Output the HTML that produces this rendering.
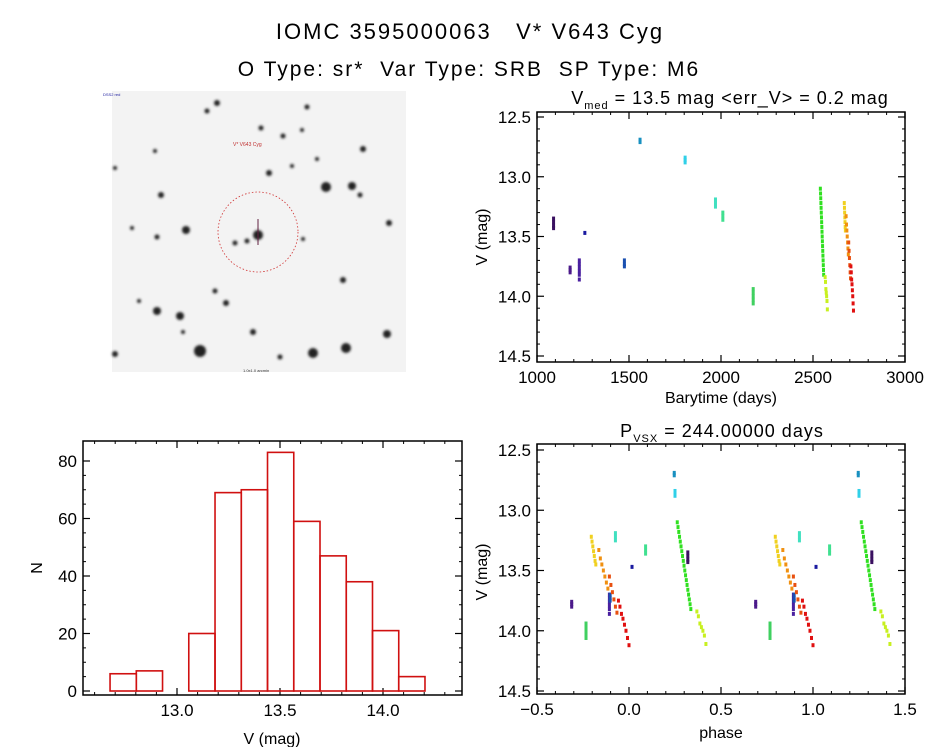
<!DOCTYPE html>
<html><head><meta charset="utf-8">
<style>
html,body{margin:0;padding:0;background:#fff;}
svg{display:block;font-family:"Liberation Sans","DejaVu Sans",sans-serif;}
</style></head>
<body>
<svg id="fig" width="944" height="747" viewBox="0 0 944 747">
<defs>
<filter id="blur1"><feGaussianBlur stdDeviation="1.2"/></filter>
</defs>
<text x="470" y="39" font-size="22" letter-spacing="2" text-anchor="middle">IOMC 3595000063 &#160;&#160;V* V643 Cyg</text>
<text x="469" y="76" font-size="21" letter-spacing="2" text-anchor="middle">O Type: sr* &#160;Var Type: SRB &#160;SP Type: M6</text>

<g id="sky">
<rect x="112" y="91" width="294" height="281" fill="#f3f3f3"/>
<g id="stars" filter="url(#blur1)"></g>
<circle cx="258" cy="232" r="40" fill="none" stroke="#d03030" stroke-width="0.8" stroke-dasharray="1.5,2"/>
<line x1="258" y1="219" x2="258" y2="245" stroke="#602040" stroke-width="1"/>
<text x="233" y="146" font-size="5" fill="#c03030">V* V643 Cyg</text>
<text x="103" y="96" font-size="4" fill="#2020a0">DSS2 red</text>
<text x="243" y="372" font-size="4" fill="#333">1.0x1.0 arcmin</text>
</g>

<g id="lc"></g>
<g id="ph"></g>
<g id="hist"></g>
</svg>
<script>
// ---- data ----
const lcTimes = [1090,1090,1090,1090, 1180,1180,1180, 1230,1230,1230,1230,1230,1230, 1260, 1475,1475,1475, 1560,1560, 1805,1805,1805, 1970,1970,1970, 2010,2010,2010, 2175,2175,2175,2175,2175,
 2540,2541,2542,2543,2544,2545,2546,2547,2548,2549,2550,2551,2552,2553,2554,2555,2556,2557,2558,
 2566,2568,2570,2572,2574,2576,2578,
 2670,2671,2672,2673,2674,2675,2676,
 2680,2682,2684,2686,2688,2690,2692,
 2694,2696,2698,2700,2702,2704,
 2706,2708,2710,2712,2714,2716,2718,2720];
const lcMags = [13.35,13.38,13.41,13.43, 13.76,13.78,13.80, 13.70,13.73,13.76,13.79,13.82,13.86, 13.47, 13.70,13.73,13.75, 12.69,12.71, 12.84,12.86,12.88, 13.19,13.22,13.25, 13.30,13.33,13.36, 13.94,13.97,14.00,14.03,14.06,
 13.10,13.14,13.18,13.22,13.26,13.30,13.34,13.38,13.42,13.46,13.50,13.54,13.58,13.62,13.66,13.70,13.74,13.78,13.82,
 13.84,13.88,13.94,13.97,14.00,14.04,14.11,
 13.22,13.26,13.30,13.34,13.38,13.42,13.45,
 13.33,13.40,13.45,13.50,13.55,13.60,13.65,
 13.55,13.62,13.68,13.74,13.80,13.85,
 13.75,13.80,13.86,13.90,13.95,14.00,14.06,14.12];
const lcColors = ['#3a1060','#3a1060','#3a1060','#3a1060','#4b1a8a','#4b1a8a','#4b1a8a','#4a20a0','#4a20a0','#4a20a0','#4a20a0','#4a20a0','#4a20a0','#1a1aa0','#1a50b0','#1a50b0','#1a50b0','#1890c0','#1890c0','#30d0e8','#30d0e8','#30d0e8','#40e0c0','#40e0c0','#40e0c0','#40e090','#40e090','#40e090','#40d060','#40d060','#40d060','#40d060','#40d060'];
const period = 244.0;
const epoch = 2720;
const histCounts = [6,7,0,20,69,70,83,59,47,38,21,5];
const histStart = 12.675;
const histWidth = 0.1274;
const lcXTicks = [1000,1500,2000,2500,3000];
const magTicks = [12.5,13.0,13.5,14.0,14.5];
const phXTicks = [-0.5,0.0,0.5,1.0,1.5];
const histXTicks = [13.0,13.5,14.0];
const histYTicks = [0,20,40,60,80];
const stars = [[217,103,3],[207,111,2.5],[307,107,2.5],[261,128,2.5],[283,136,2.5],[302,130,2],[363,149,3],[155,151,2],[269,173,3],[326,187,5],[352,186,4],[360,195,2.5],[161,195,3],[186,230,4],[157,237,2.5],[132,228,2],[258,235,5],[247,241,2.5],[235,243,2.5],[389,223,3],[303,239,2],[343,280,3],[215,291,2.5],[226,303,3],[157,311,4],[180,316,4],[200,351,6],[313,353,5],[346,348,5],[387,334,4],[253,332,3],[280,357,2.5],[115,354,3],[115,168,2],[317,159,2],[292,166,2],[139,301,2],[183,332,2]];

function streakColor(t,m){
  if(t<2565) return '#30e020';
  if(t<2600) return '#c8f020';
  if(t<2678) return '#f0d020';
  if(t<2693) return '#f09010';
  if(t<2705) return '#e85010';
  return '#e01010';
}
const NS='http://www.w3.org/2000/svg';
function mk(tag,attrs,parent){const e=document.createElementNS(NS,tag);for(const k in attrs)e.setAttribute(k,attrs[k]);parent.appendChild(e);return e;}

const sg=document.getElementById('stars');
stars.forEach(s=>{const c=mk('circle',{cx:s[0],cy:s[1],r:s[2],fill:'#222'},sg);

});

function axesBox(g,x0,y0,x1,y1){
  const r=mk('rect',{x:x0,y:y0,width:x1-x0,height:y1-y0,fill:'none',stroke:'#000','stroke-width':1.5},g);
  
  
}
function xAxis(g,ticks,sx,y0,y1,fmt,minor){
  ticks.forEach(v=>{const x=sx(v);
    mk('line',{x1:x,y1:y1,x2:x,y2:y1-7,stroke:'#000','stroke-width':1.2},g);
    mk('line',{x1:x,y1:y0,x2:x,y2:y0+7,stroke:'#000','stroke-width':1.2},g);
    const t=mk('text',{x:x,y:y1+21,'font-size':17,'text-anchor':'middle'},g);t.textContent=fmt(v);
    
    
  });
  for(let i=0;i<ticks.length-1;i++){const a=ticks[i],b=ticks[i+1];
    for(let k=1;k<minor;k++){const x=sx(a+(b-a)*k/minor);
      mk('line',{x1:x,y1:y1,x2:x,y2:y1-3,stroke:'#000'},g);mk('line',{x1:x,y1:y0,x2:x,y2:y0+3,stroke:'#000'},g);}}
}
function yAxis(g,ticks,sy,x0,x1,fmt,minor){
  ticks.forEach(v=>{const y=sy(v);
    mk('line',{x1:x0,y1:y,x2:x0+7,y2:y,stroke:'#000','stroke-width':1.2},g);
    mk('line',{x1:x1,y1:y,x2:x1-7,y2:y,stroke:'#000','stroke-width':1.2},g);
    const t=mk('text',{x:x0-6,y:y+6,'font-size':17,'text-anchor':'end'},g);t.textContent=fmt(v);
    
    
  });
  for(let i=0;i<ticks.length-1;i++){const a=ticks[i],b=ticks[i+1];
    for(let k=1;k<minor;k++){const y=sy(a+(b-a)*k/minor);
      mk('line',{x1:x0,y1:y,x2:x0+3,y2:y,stroke:'#000'},g);mk('line',{x1:x1,y1:y,x2:x1-3,y2:y,stroke:'#000'},g);}}
}
function label(g,x,y,txt,name,rot){
  const t=mk('text',{x:x,y:y,'font-size':16,'text-anchor':'middle'},g);
  if(rot)t.setAttribute('transform','rotate(-90 '+x+' '+y+')');
  t.textContent=txt;
  
  
  return t;
}
function colorOf(i){return i<lcColors.length?lcColors[i]:streakColor(lcTimes[i],lcMags[i]);}

// ---- light curve ----
{
 const g=document.getElementById('lc');
 const x0=537,x1=905,y0=112,y1=362;
 const sx=v=>537+(v-1000)*(368/2000);
 const sy=v=>117+(v-12.5)*119.5;
 axesBox(g,x0,y0,x1,y1);
 xAxis(g,lcXTicks,sx,y0,y1,v=>String(v),5);
 yAxis(g,magTicks,sy,x0,x1,v=>v.toFixed(1),5);
 const t=mk('text',{x:730,y:104,'font-size':18,'text-anchor':'middle','letter-spacing':1},g);
 t.innerHTML='V<tspan font-size="11" dy="5">med</tspan><tspan dy="-5"> = 13.5 mag &lt;err_V&gt; = 0.2 mag</tspan>';
 
 
 label(g,721,403,'Barytime (days)','x-axis-title');
 label(g,487,237,'V (mag)','y-axis-title',true);
 lcTimes.forEach((tt,i)=>{const p=mk('rect',{x:sx(tt)-1.5,y:sy(lcMags[i])-2,width:3,height:4,fill:colorOf(i)},g);
  
  });
}
// ---- phased ----
{
 const g=document.getElementById('ph');
 const x0=537,x1=905,y0=444,y1=694;
 const sx=v=>537+(v+0.5)*184;
 const sy=v=>450+(v-12.5)*120.5;
 axesBox(g,x0,y0,x1,y1);
 xAxis(g,phXTicks,sx,y0,y1,v=>v.toFixed(1).replace('-','\u2212'),5);
 yAxis(g,magTicks,sy,x0,x1,v=>v.toFixed(1),5);
 const t=mk('text',{x:722,y:437,'font-size':18,'text-anchor':'middle','letter-spacing':1},g);
 t.innerHTML='P<tspan font-size="11" dy="5">VSX</tspan><tspan dy="-5"> = 244.00000 days</tspan>';
 
 
 label(g,721,738,'phase','x-axis-title');
 label(g,487,572,'V (mag)','y-axis-title',true);
 lcTimes.forEach((tt,i)=>{
  let ph=((tt-epoch)/period)%1; if(ph<-0.5)ph+=1; if(ph>=0.5)ph-=1;
  [ph,ph+1].forEach(pp=>{const p=mk('rect',{x:sx(pp)-1.5,y:sy(lcMags[i])-2,width:3,height:4,fill:colorOf(i)},g);
   
   });
 });
}
// ---- histogram ----
{
 const g=document.getElementById('hist');
 const x0=83,x1=462,y0=441,y1=695;
 const sx=v=>177+(v-13.0)*206;
 const sy=v=>691-v*2.875;
 axesBox(g,x0,y0,x1,y1);
 xAxis(g,histXTicks,sx,y0,y1,v=>v.toFixed(1),5);
 [12.6,12.7,12.8,12.9,14.1,14.2,14.3].forEach(v=>{const x=sx(v);mk('line',{x1:x,y1:y1,x2:x,y2:y1-3,stroke:'#000'},g);mk('line',{x1:x,y1:y0,x2:x,y2:y0+3,stroke:'#000'},g);});
 yAxis(g,histYTicks,sy,x0,x1,v=>String(v),4);
 label(g,272,744,'V (mag)','x-axis-title');
 label(g,42,568,'N','y-axis-title',true);
 histCounts.forEach((c,i)=>{if(c<=0)return;
  const a=sx(histStart+i*histWidth),b=sx(histStart+(i+1)*histWidth);
  const r=mk('rect',{x:a,y:sy(c),width:b-a,height:sy(0)-sy(c),fill:'none',stroke:'#d01010','stroke-width':1.6},g);
  
  });
}
</script>
</body></html>
